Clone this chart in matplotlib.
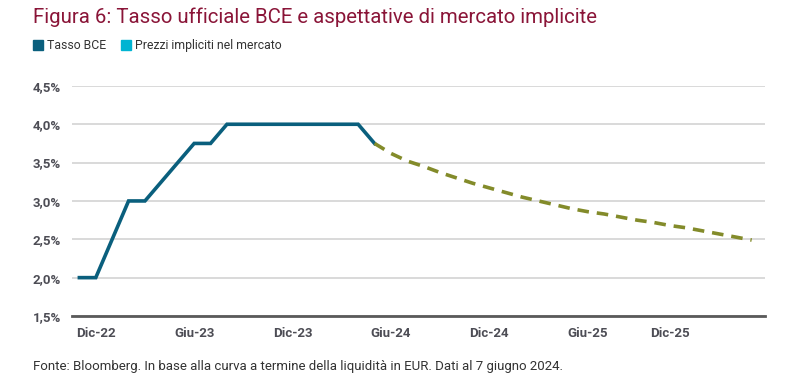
import matplotlib
matplotlib.use("Agg")
import matplotlib.pyplot as plt
from matplotlib.lines import Line2D
from matplotlib.ticker import FuncFormatter

# monthly points, index 0 = first observation
hist_x = [0, 1, 2, 3, 4, 5, 6, 7, 8, 9, 10, 11, 12, 13, 14, 15, 16, 17, 18]
hist_rate = [2.0, 2.0, 2.5, 3.0, 3.0, 3.25, 3.5, 3.75, 3.75, 4.0,
             4.0, 4.0, 4.0, 4.0, 4.0, 4.0, 4.0, 4.0, 3.75]

fwd_x = list(range(18, 42))
fwd_rate = [3.75, 3.62, 3.52, 3.45, 3.37, 3.30, 3.23, 3.17, 3.11, 3.05,
            3.00, 2.95, 2.90, 2.86, 2.83, 2.79, 2.75, 2.72, 2.68, 2.65,
            2.61, 2.57, 2.53, 2.49]

tick_pos = [1, 7, 13, 19, 25, 31, 36]
tick_labels = ["Dic-22", "Giu-23", "Dic-23", "Giu-24", "Dic-24", "Giu-25", "Dic-25"]
y_ticks = [1.5, 2.0, 2.5, 3.0, 3.5, 4.0, 4.5]

TEAL = "#0a5f7d"
OLIVE = "#838b2a"
CYAN = "#00b4d2"
MAROON = "#8a1538"
TXT = "#4d4d55"

plt.rcParams["font.family"] = ["Roboto", "DejaVu Sans"]

fig = plt.figure(figsize=(8, 3.87), dpi=100)
ax = fig.add_axes([0.09, 0.1835, 0.866, 0.5945])

ax.plot(hist_x, hist_rate, color=TEAL, lw=2.6, solid_joinstyle="miter", zorder=3)
ax.plot(fwd_x, fwd_rate, color=OLIVE, lw=2.6, dashes=(3.2, 2.2), zorder=3)

ax.set_xlim(-0.45, 41.8)
ax.set_ylim(1.5, 4.5)
ax.set_yticks(y_ticks)
ax.yaxis.set_major_formatter(FuncFormatter(lambda v, p: f"{v:.1f}%".replace(".", ",")))
ax.set_xticks(tick_pos)
ax.set_xticklabels(tick_labels)

ax.grid(axis="y", color="#d9d9d9", lw=1.4)
ax.set_axisbelow(True)
for s in ["top", "right", "left"]:
    ax.spines[s].set_visible(False)
ax.spines["bottom"].set_color("#5a5a5a")
ax.spines["bottom"].set_linewidth(2)
ax.spines["bottom"].set_zorder(4)
ax.tick_params(length=0, labelsize=9.5, labelcolor=TXT, pad=8)
ax.tick_params(axis="y", pad=8)
for lab in ax.get_xticklabels() + ax.get_yticklabels():
    lab.set_fontweight("bold")

fig.text(0.041, 0.955, "Figura 6: Tasso ufficiale BCE e aspettative di mercato implicite",
         fontsize=14.7, color=MAROON, va="center", ha="left")

handles = [Line2D([], [], ls="none", marker="s", markersize=7, color=TEAL),
           Line2D([], [], ls="none", marker="s", markersize=7, color=CYAN)]
fig.legend(handles, ["Tasso BCE", "Prezzi impliciti nel mercato"], loc="center left",
           bbox_to_anchor=(0.028, 0.883), ncol=2, frameon=False, fontsize=8.8,
           handlelength=0.7, handletextpad=0.4, columnspacing=1.3, labelcolor="#333333")

fig.text(0.041, 0.054, "Fonte: Bloomberg. In base alla curva a termine della liquidità in EUR. "
         "Dati al 7 giugno 2024.", fontsize=9.5, color="#333333", va="center", ha="left")

fig.savefig("out.png", dpi=100)
